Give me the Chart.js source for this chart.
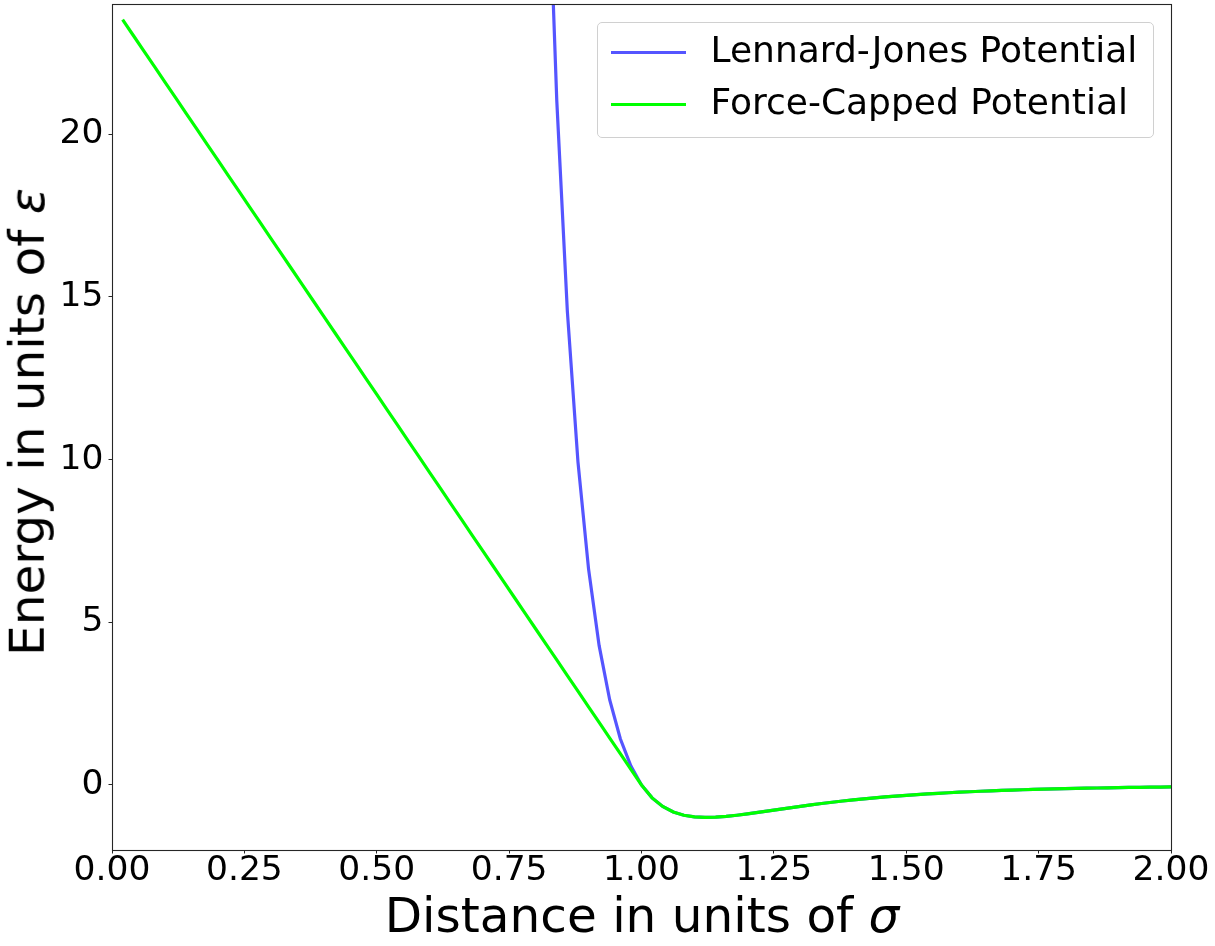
<!DOCTYPE html>
<html>
<head>
<meta charset="utf-8">
<script src="https://cdn.jsdelivr.net/npm/chart.js@4/dist/chart.umd.min.js"></script>
<style>
  html, body { margin: 0; padding: 0; background: #ffffff; }
  #wrap { position: relative; width: 1215px; height: 946px; font-family: "DejaVu Sans", sans-serif; color: #000; }
  #chart { position: absolute; left: 0; top: 0; }
  .xtitle { position: absolute; left: 642px; top: 891px; font-size: 48.5px; line-height: 48.5px; white-space: nowrap; transform: translateX(-50%); }
  .ytitle { position: absolute; left: 26.5px; top: 422px; font-size: 48.5px; line-height: 48.5px; white-space: nowrap; transform: translate(-50%, -50%) rotate(-90deg); }
  .legend { position: absolute; left: 597px; top: 22px; width: 555px; height: 114px; border: 1px solid #d0d0d0; border-radius: 5px; background: rgba(255,255,255,0.8); }
  .lline { position: absolute; left: 13px; width: 75px; height: 3px; }
  .ltext { position: absolute; left: 112.5px; font-size: 36px; line-height: 36px; white-space: nowrap; }
</style>
</head>
<body>
<div id="wrap">
  <canvas id="chart" width="1215" height="946"></canvas>
  <div class="xtitle">Distance in units of <i>σ</i></div>
  <div class="ytitle">Energy in units of <i>ε</i></div>
  <div class="legend">
    <div class="lline" style="top:27.8px;background:#5555ff"></div>
    <div class="ltext" style="top:9.2px">Lennard-Jones Potential</div>
    <div class="lline" style="top:79.8px;background:#00ff00"></div>
    <div class="ltext" style="top:60.8px">Force-Capped Potential</div>
  </div>
</div>
<script>
// ---- data ----
const distance = [
  0.02,0.04,0.06,0.08,0.10,0.12,0.14,0.16,0.18,0.20,
  0.22,0.24,0.26,0.28,0.30,0.32,0.34,0.36,0.38,0.40,
  0.42,0.44,0.46,0.48,0.50,0.52,0.54,0.56,0.58,0.60,
  0.62,0.64,0.66,0.68,0.70,0.72,0.74,0.76,0.78,0.80,
  0.82,0.84,0.86,0.88,0.90,0.92,0.94,0.96,0.98,1.00,
  1.02,1.04,1.06,1.08,1.10,1.12,1.14,1.16,1.18,1.20,
  1.22,1.24,1.26,1.28,1.30,1.32,1.34,1.36,1.38,1.40,
  1.42,1.44,1.46,1.48,1.50,1.52,1.54,1.56,1.58,1.60,
  1.62,1.64,1.66,1.68,1.70,1.72,1.74,1.76,1.78,1.80,
  1.82,1.84,1.86,1.88,1.90,1.92,1.94,1.96,1.98,2.00
];
// Lennard-Jones, repulsive wall (r = 0.82 .. 0.98); earlier points are far off the top
const ljWall = [30.12, 21.03, 14.55, 9.93, 6.64, 4.28, 2.61, 1.42, 0.58];
// Force-capped, linear part (r = 0.02 .. 0.98)
const cappedLinear = [
  23.52,23.04,22.56,22.08,21.60,21.12,20.64,20.16,19.68,19.20,
  18.72,18.24,17.76,17.28,16.80,16.32,15.84,15.36,14.88,14.40,
  13.92,13.44,12.96,12.48,12.00,11.52,11.04,10.56,10.08,9.60,
  9.12,8.64,8.16,7.68,7.20,6.72,6.24,5.76,5.28,4.80,
  4.32,3.84,3.36,2.88,2.40,1.92,1.44,0.96,0.48
];
// Shared well and tail for both curves (r = 1.00 .. 2.00)
const wellTail = [
  0.000,-0.398,-0.663,-0.832,-0.932,-0.983,-1.000,-0.992,-0.968,-0.933,-0.891,
  -0.845,-0.798,-0.750,-0.703,-0.657,-0.613,-0.572,-0.532,-0.495,-0.461,
  -0.428,-0.398,-0.370,-0.344,-0.320,-0.298,-0.277,-0.258,-0.241,-0.224,
  -0.209,-0.195,-0.182,-0.170,-0.159,-0.149,-0.139,-0.130,-0.122,-0.114,
  -0.107,-0.100,-0.094,-0.089,-0.083,-0.078,-0.074,-0.069,-0.065,-0.062
];
const seriesNames = ["Lennard-Jones Potential", "Force-Capped Potential"];
const xTickValues = [0, 0.25, 0.5, 0.75, 1.0, 1.25, 1.5, 1.75, 2.0];
const yTickValues = [0, 5, 10, 15, 20];
const xRange = [0, 2];
const yRange = [-2, 24];

// ---- build datasets ----
const nHidden = distance.length - ljWall.length - wellTail.length;
const ljValues = new Array(nHidden).fill(null).concat(ljWall, wellTail);
const cappedValues = cappedLinear.concat(wellTail);
const toPoints = vals => distance.map((x, i) => ({ x: x, y: vals[i] }));

const framePlugin = {
  id: 'frame',
  afterDraw(chart) {
    const a = chart.chartArea, c = chart.ctx;
    c.save();
    c.strokeStyle = '#262626';
    c.lineWidth = 1.1;
    c.strokeRect(Math.round(a.left) + 0.5, Math.round(a.top) + 0.5,
                 Math.round(a.right) - Math.round(a.left), Math.round(a.bottom) - Math.round(a.top));
    c.restore();
  }
};

const tickFont = { family: "DejaVu Sans", size: 34.5, lineHeight: 1 };

new Chart(document.getElementById('chart'), {
  type: 'line',
  data: {
    datasets: [
      { label: seriesNames[1], data: toPoints(cappedValues), borderColor: '#00ff00', borderWidth: 3.2,
        pointRadius: 0, tension: 0, fill: false, clip: 0, order: 0 },
      { label: seriesNames[0], data: toPoints(ljValues), borderColor: '#5555ff', borderWidth: 3.2,
        pointRadius: 0, tension: 0, fill: false, clip: 0, spanGaps: false, order: 1 }
    ]
  },
  options: {
    responsive: false,
    animation: false,
    events: [],
    layout: { padding: { left: 0, right: 44, top: 4, bottom: 0 } },
    plugins: { legend: { display: false }, tooltip: { enabled: false } },
    scales: {
      x: {
        type: 'linear', min: xRange[0], max: xRange[1],
        afterBuildTicks: s => { s.ticks = xTickValues.map(v => ({ value: v })); },
        afterFit: s => { s.height = 96; s.paddingLeft = 0; s.paddingRight = 0; },
        ticks: { font: tickFont, color: '#000', padding: 0, maxRotation: 0, autoSkip: false,
                 callback: v => Number(v).toFixed(2) },
        grid: { drawOnChartArea: false, drawTicks: true, tickLength: 3.5, tickColor: '#262626', tickWidth: 1 },
        border: { display: false }
      },
      y: {
        type: 'linear', min: yRange[0], max: yRange[1],
        afterBuildTicks: s => { s.ticks = yTickValues.map(v => ({ value: v })); },
        afterFit: s => { s.width = 112; s.paddingTop = 0; s.paddingBottom = 0; },
        ticks: { font: tickFont, color: '#000', padding: 5, autoSkip: false,
                 callback: v => String(v) },
        grid: { drawOnChartArea: false, drawTicks: true, tickLength: 3.5, tickColor: '#262626', tickWidth: 1 },
        border: { display: false }
      }
    }
  },
  plugins: [framePlugin]
});
</script>
</body>
</html>
